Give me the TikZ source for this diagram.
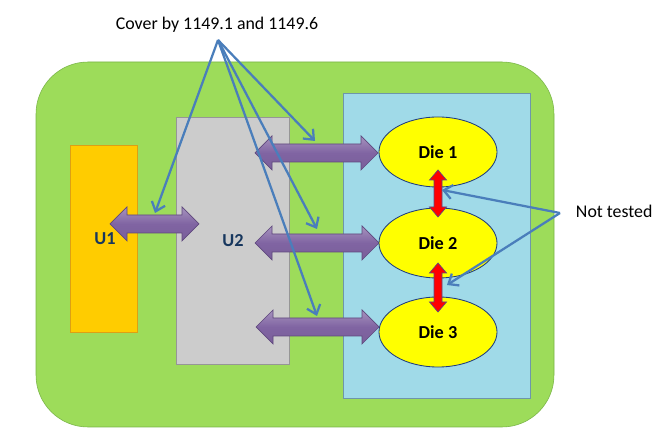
\documentclass[tikz,border=0pt]{standalone}
\usepackage{fontspec}
\setmainfont{Carlito}
\usepackage{tikz}
\usetikzlibrary{arrows.meta,positioning,shapes.geometric}

\definecolor{boardgreen}{RGB}{157,220,90}
\definecolor{boardedge}{RGB}{120,180,70}
\definecolor{stackblue}{RGB}{160,218,232}
\definecolor{stackedge}{RGB}{110,150,170}
\definecolor{chipgray}{RGB}{204,204,204}
\definecolor{chipedge}{RGB}{150,150,150}
\definecolor{chiporange}{RGB}{255,204,0}
\definecolor{orangeedge}{RGB}{220,160,20}
\definecolor{diefill}{RGB}{255,255,0}
\definecolor{dieedge}{RGB}{30,60,130}
\definecolor{busviolet}{RGB}{128,100,162}
\definecolor{busedge}{RGB}{95,72,125}
\definecolor{notered}{RGB}{255,0,0}
\definecolor{callblue}{RGB}{74,126,187}
\definecolor{labelnavy}{RGB}{23,55,94}

% 太い両矢印: [オプション]{中心}{半長}{軸の半幅}{頭の半幅}{頭の長さ}
\newcommand{\fatarrow}[6][]{%
  \draw[shift={(#2)}, #1] (-#3,0) -- (-#3+#6,-#5) -- (-#3+#6,-#4) -- (#3-#6,-#4)
    -- (#3-#6,-#5) -- (#3,0) -- (#3-#6,#5) -- (#3-#6,#4) -- (-#3+#6,#4)
    -- (-#3+#6,#5) -- cycle;}

\begin{document}
\begin{tikzpicture}[x=0.025cm,y=-0.025cm,
  busarrow/.style={top color=busviolet!70!white, bottom color=busviolet!95!black, middle color=busviolet, draw=busedge, line width=0.5pt},
  linkarrow/.style={fill=notered, draw=busedge, line width=0.5pt, rotate=90},
  diebox/.style={ellipse, fill=diefill, draw=dieedge, line width=0.6pt,
    minimum width=2.95cm, minimum height=1.75cm, font=\bfseries\fontsize{13}{15}\selectfont},
  chiplabel/.style={font=\bfseries\fontsize{13}{15}\selectfont, text=labelnavy},
  notelabel/.style={font=\fontsize{12.7}{15}\selectfont},
  callout/.style={draw=callblue, line width=1.6pt, -{Straight Barb[length=6pt,width=10pt]}}]
  \useasboundingbox (0,0) rectangle (665,444); % 画像全体の範囲

  \draw[fill=boardgreen, draw=boardedge, rounded corners=1.3cm] (36,62) rectangle (554,427); % 基板（緑）
  \draw[fill=stackblue, draw=stackedge] (343,93) rectangle (530,398); % 積層ダイ（水色）
  \draw[fill=chipgray, draw=chipedge] (176,117) rectangle (289,364); % U2（灰色）
  \draw[fill=chiporange, draw=orangeedge] (70,145) rectangle (137,332); % U1（橙色）

  \fatarrow[busarrow]{154.5,224}{44.5}{9}{17}{17} % U1--U2 の接続
  \fatarrow[busarrow]{316.5,153}{61.5}{9}{17}{17} % U2--Die 1
  \fatarrow[busarrow]{317,243}{62}{9}{17}{17} % U2--Die 2
  \fatarrow[busarrow]{317.5,327}{61.5}{9}{17}{17} % U2--Die 3

  \node[diebox] (die1) at (438,152) {Die 1};
  \node[diebox] (die2) at (438,243) {Die 2};
  \node[diebox] (die3) at (438,332) {Die 3};

  \fatarrow[linkarrow]{438,193.5}{23.5}{4}{8.5}{10} % Die 1--Die 2 間（未テスト）
  \fatarrow[linkarrow]{438,287.5}{24.5}{4}{8.5}{10} % Die 2--Die 3 間（未テスト）

  \node[chiplabel] (u1) at (105,239) {U1};
  \node[chiplabel] (u2) at (233,241) {U2};

  \node[notelabel] (cover) at (217,25) {Cover by 1149.1 and 1149.6};
  \node[notelabel, anchor=west] (nottested) at (571,211) {Not tested};

  \coordinate (coverpt) at (218,40); % 引き出し線の起点
  \coordinate (hitone) at (155,213);
  \coordinate (hittop) at (315,141);
  \coordinate (hitmid) at (317,229);
  \coordinate (hitlow) at (317,316);
  \coordinate (notept) at (560,213);
  \coordinate (hitlink12) at (442,190);
  \coordinate (hitlink23) at (447,285);

  \foreach \t in {hitone,hittop,hitmid,hitlow}
    \draw[callout] (coverpt) -- (\t); % 1149.1/1149.6 の対象
  \foreach \t in {hitlink12,hitlink23}
    \draw[callout] (notept) -- (\t); % 未テストの対象
\end{tikzpicture}
\end{document}
